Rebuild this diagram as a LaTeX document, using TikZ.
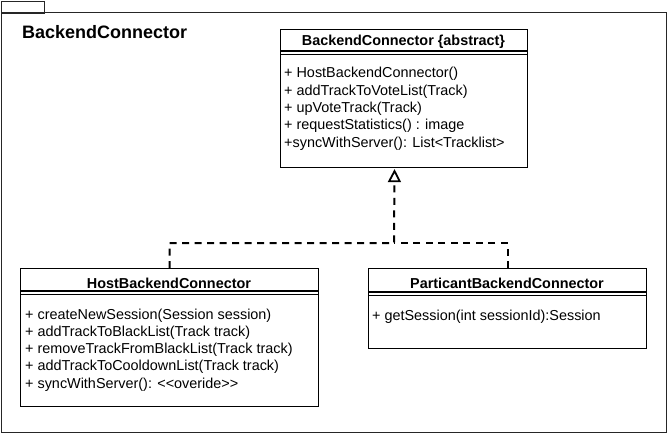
\documentclass[tikz,border=0pt]{standalone}
\usepackage{fontspec}
\setmainfont{Liberation Sans}
\usetikzlibrary{arrows.meta}
\begin{document}
\begin{tikzpicture}[x=1pt,y=-1pt,
  box/.style={draw=black, line width=1.1pt, fill=white, inner sep=0pt, anchor=north west},
  frame/.style={draw=black!85, line width=1.1pt},
  meth/.style={anchor=base west, inner sep=0pt, font=\fontsize{14.4}{17.3}\selectfont},
  head/.style={anchor=base, inner sep=0pt, font=\bfseries\fontsize{14.4}{17.3}\selectfont},
  sep/.style={draw=black, line width=1.1pt},
  dashline/.style={line width=2pt, dash pattern=on 7pt off 5.5pt},
  realize/.style={dashline, -{Triangle[open, length=13pt, width=13pt, line width=1.8pt]}}
]
\useasboundingbox (0,0) rectangle (667,441);
% package frame
\node[frame, inner sep=0pt, anchor=north west, minimum width=43pt, minimum height=12pt] (tab) at (0.6,0.6) {};
\node[frame, inner sep=0pt, anchor=north west, minimum width=665pt, minimum height=420pt] (pkg) at (0.6,12) {};
\node[anchor=base west, inner sep=0pt, font=\bfseries\fontsize{18}{21}\selectfont] (pkgname) at (22,38.5) {BackendConnector};

% abstract class
\node[box, minimum width=247pt, minimum height=138pt] (abs) at (280,29) {};
\node[head] (absname) at (403.5,46) {BackendConnector \{abstract\}};
\draw[sep] ([yshift=-22pt]abs.north west) -- ([yshift=-22pt]abs.north east);
\draw[sep] ([yshift=-25.5pt]abs.north west) -- ([yshift=-25.5pt]abs.north east);
\node[meth] (a1) at (284,78) {+ HostBackendConnector()};
\node[meth] (a2) at (284,95.3) {+ addTrackToVoteList(Track)};
\node[meth] (a3) at (284,112.6) {+ upVoteTrack(Track)};
\node[meth] (a4) at (284,129.9) {+ requestStatistics() : image};
\node[meth] (a5) at (284,147.2) {+syncWithServer(): List<Tracklist>};

% host class
\node[box, minimum width=298pt, minimum height=138pt] (host) at (20,268) {};
\node[head] (hostname) at (169,288) {HostBackendConnector};
\draw[sep] ([yshift=-23pt]host.north west) -- ([yshift=-23pt]host.north east);
\draw[sep] ([yshift=-26.5pt]host.north west) -- ([yshift=-26.5pt]host.north east);
\node[meth] (h1) at (25,319) {+ createNewSession(Session session)};
\node[meth] (h2) at (25,336.3) {+ addTrackToBlackList(Track track)};
\node[meth] (h3) at (25,353.6) {+ removeTrackFromBlackList(Track track)};
\node[meth] (h4) at (25,370.9) {+ addTrackToCooldownList(Track track)};
\node[meth] (h5) at (25,388.2) {+ syncWithServer(): <{}<overide>{}>};

% participant class
\node[box, minimum width=278pt, minimum height=80pt] (part) at (368,268) {};
\node[head] (partname) at (507,288) {ParticantBackendConnector};
\draw[sep] ([yshift=-24pt]part.north west) -- ([yshift=-24pt]part.north east);
\draw[sep] ([yshift=-27.5pt]part.north west) -- ([yshift=-27.5pt]part.north east);
\node[meth] (p1) at (372,320) {+ getSession(int sessionId):Session};

% realization connectors
\coordinate (j) at (394,243);
\coordinate (tip) at ([xshift=-9.5pt,yshift=-1pt]abs.south);
\draw[realize] (host.north) |- (j) -- (tip);
\draw[dashline] (part.north) |- (j);
\end{tikzpicture}
\end{document}
